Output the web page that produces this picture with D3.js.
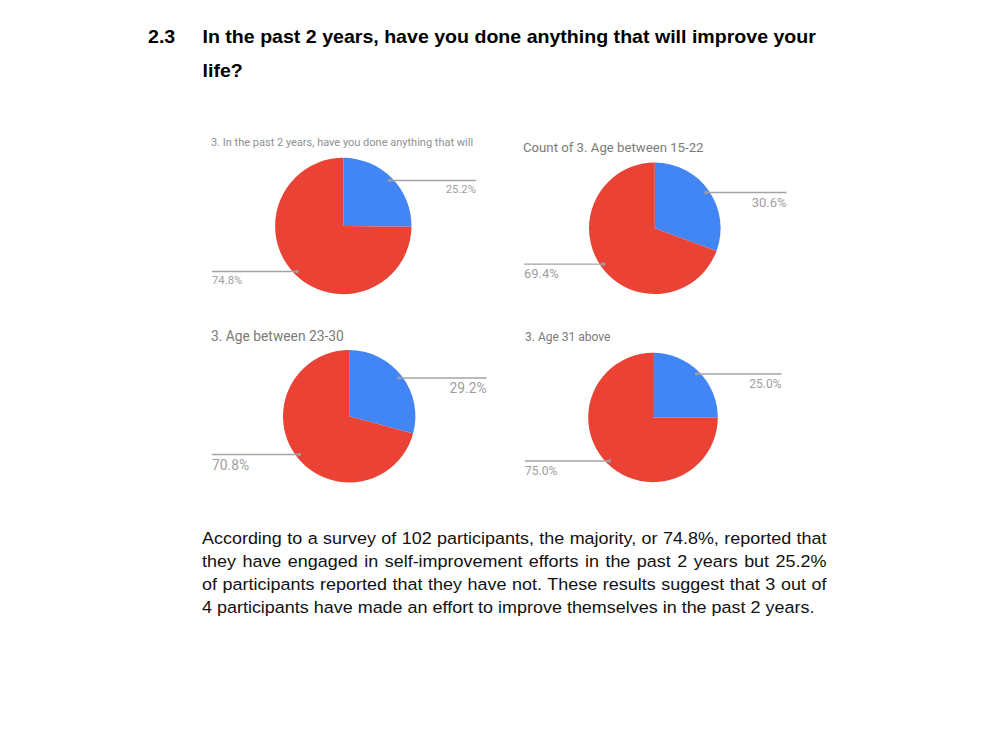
<!DOCTYPE html>
<html lang="en">
<head>
<meta charset="UTF-8">
<title>Self-improvement survey pies</title>
<script src="https://d3js.org/d3.v7.min.js"></script>
<style>
  body { margin: 0; background: #fff; }
  svg { display: block; }
  .heading { font-family: "Liberation Sans", Arial, sans-serif; font-weight: bold; font-size: 17.8px; fill: #000; }
  .body-text { font-family: "Liberation Sans", Arial, sans-serif; font-size: 16.8px; fill: #111; }
  .pie-title { font-family: Roboto, sans-serif; }
  .pie-label { font-family: Roboto, sans-serif; fill: #9e9e9e; }
</style>
</head>
<body>
<script>
  // slice order: blue first, then red (clockwise from 12 o'clock)
  var categories = ["No", "Yes"];
  var chartTitles = [
    "3. In the past 2 years, have you done anything that will",
    "Count of 3. Age between 15-22",
    "3. Age between 23-30",
    "3. Age 31 above"
  ];
  var noShare = [25.2, 30.6, 29.2, 25.0];
  var yesShare = [74.8, 69.4, 70.8, 75.0];

  var headingNumber = "2.3";
  var headingLines = [
    "In the past 2 years, have you done anything that will improve your",
    "life?"
  ];
  var paragraphLines = [
    "According to a survey of 102 participants, the majority, or 74.8%, reported that",
    "they have engaged in self-improvement efforts in the past 2 years but 25.2%",
    "of participants reported that they have not. These results suggest that 3 out of",
    "4 participants have made an effort to improve themselves in the past 2 years."
  ];

  var colors = d3.scaleOrdinal().domain(categories).range(["#4285f4", "#ea4335"]);
  var fmt = function (v) { return d3.format(".1f")(v) + "%"; };

  // placement of each small pie on the page
  var layout = [
    { cx: 343.3, cy: 226, r: 68.2, titleX: 211, titleY: 146, titleSize: 11, titleColor: "#8f8f8f", labelSize: 11.3, labelDy: 12.7, leftX: 212, rightX: 476 },
    { cx: 654.8, cy: 228.3, r: 65.8, titleX: 523, titleY: 151.5, titleSize: 13.2, titleColor: "#7a7a7a", labelSize: 13, labelDy: 14.4, leftX: 524, rightX: 786.5 },
    { cx: 349.2, cy: 416.3, r: 66.2, titleX: 211, titleY: 340.5, titleSize: 13.8, titleColor: "#7a7a7a", labelSize: 13.8, labelDy: 15.3, leftX: 212, rightX: 486.5 },
    { cx: 653, cy: 417.5, r: 64.8, titleX: 525, titleY: 341, titleSize: 12, titleColor: "#7a7a7a", labelSize: 12, labelDy: 14.4, leftX: 525, rightX: 781.5 }
  ];

  var svg = d3.select("body").append("svg")
    .attr("width", 1000)
    .attr("height", 750);

  svg.append("rect").attr("width", 1000).attr("height", 750).attr("fill", "#fff");

  // the page text is slightly stretched horizontally in the source
  var headSx = 1.1, paraSx = 1.07;

  // heading
  svg.append("text").attr("class", "heading")
    .attr("transform", "translate(148,43.3) scale(" + headSx + ",1)")
    .text(headingNumber);
  svg.selectAll("text.heading-line")
    .data(headingLines)
    .enter().append("text")
    .attr("class", "heading heading-line")
    .attr("transform", function (d, i) { return "translate(202.5," + (43.3 + i * 33.4) + ") scale(" + headSx + ",1)"; })
    .text(function (d) { return d; });

  var pie = d3.pie().sort(null).value(function (d) { return d.value; });

  chartTitles.forEach(function (title, i) {
    var L = layout[i];
    var slices = pie([
      { key: categories[0], value: noShare[i] },
      { key: categories[1], value: yesShare[i] }
    ]);
    var g = svg.append("g");

    g.append("text").attr("class", "pie-title")
      .attr("x", L.titleX).attr("y", L.titleY)
      .attr("fill", L.titleColor)
      .style("font-size", L.titleSize + "px")
      .text(title);

    var arc = d3.arc().innerRadius(0).outerRadius(L.r);
    var pg = g.append("g").attr("transform", "translate(" + L.cx + "," + L.cy + ")");
    pg.selectAll("path")
      .data(slices)
      .enter().append("path")
      .attr("d", arc)
      .attr("fill", function (d) { return colors(d.data.key); });

    // leader lines and labels
    slices.forEach(function (s) {
      var mid = (s.startAngle + s.endAngle) / 2;
      var px = L.cx + Math.sin(mid) * L.r * 0.95;
      var py = L.cy - Math.cos(mid) * L.r * 0.95;
      var right = Math.sin(mid) > 0;
      var endX = right ? L.rightX : L.leftX;
      g.append("line")
        .attr("x1", px).attr("y1", py)
        .attr("x2", endX).attr("y2", py)
        .attr("stroke", "#a3a3a3").attr("stroke-width", 1.4);
      g.append("circle")
        .attr("cx", px).attr("cy", py).attr("r", 1.8)
        .attr("fill", "#9e9e9e");
      g.append("text").attr("class", "pie-label")
        .attr("x", endX)
        .attr("y", py + L.labelDy)
        .attr("text-anchor", right ? "end" : "start")
        .style("font-size", L.labelSize + "px")
        .text(fmt(s.data.value));
    });
  });

  // justified paragraph
  var paraLeft = 202, paraRight = 826.5, paraTop = 544.3, lineGap = 23;
  paragraphLines.forEach(function (line, i) {
    var t = svg.append("text").attr("class", "body-text")
      .attr("transform", "translate(" + paraLeft + "," + (paraTop + i * lineGap) + ") scale(" + paraSx + ",1)")
      .text(line);
    if (i < paragraphLines.length - 1) {
      var natural = t.node().getComputedTextLength();
      var spaces = line.split(" ").length - 1;
      t.style("word-spacing", (((paraRight - paraLeft) / paraSx - natural) / spaces) + "px");
    }
  });
</script>
</body>
</html>
